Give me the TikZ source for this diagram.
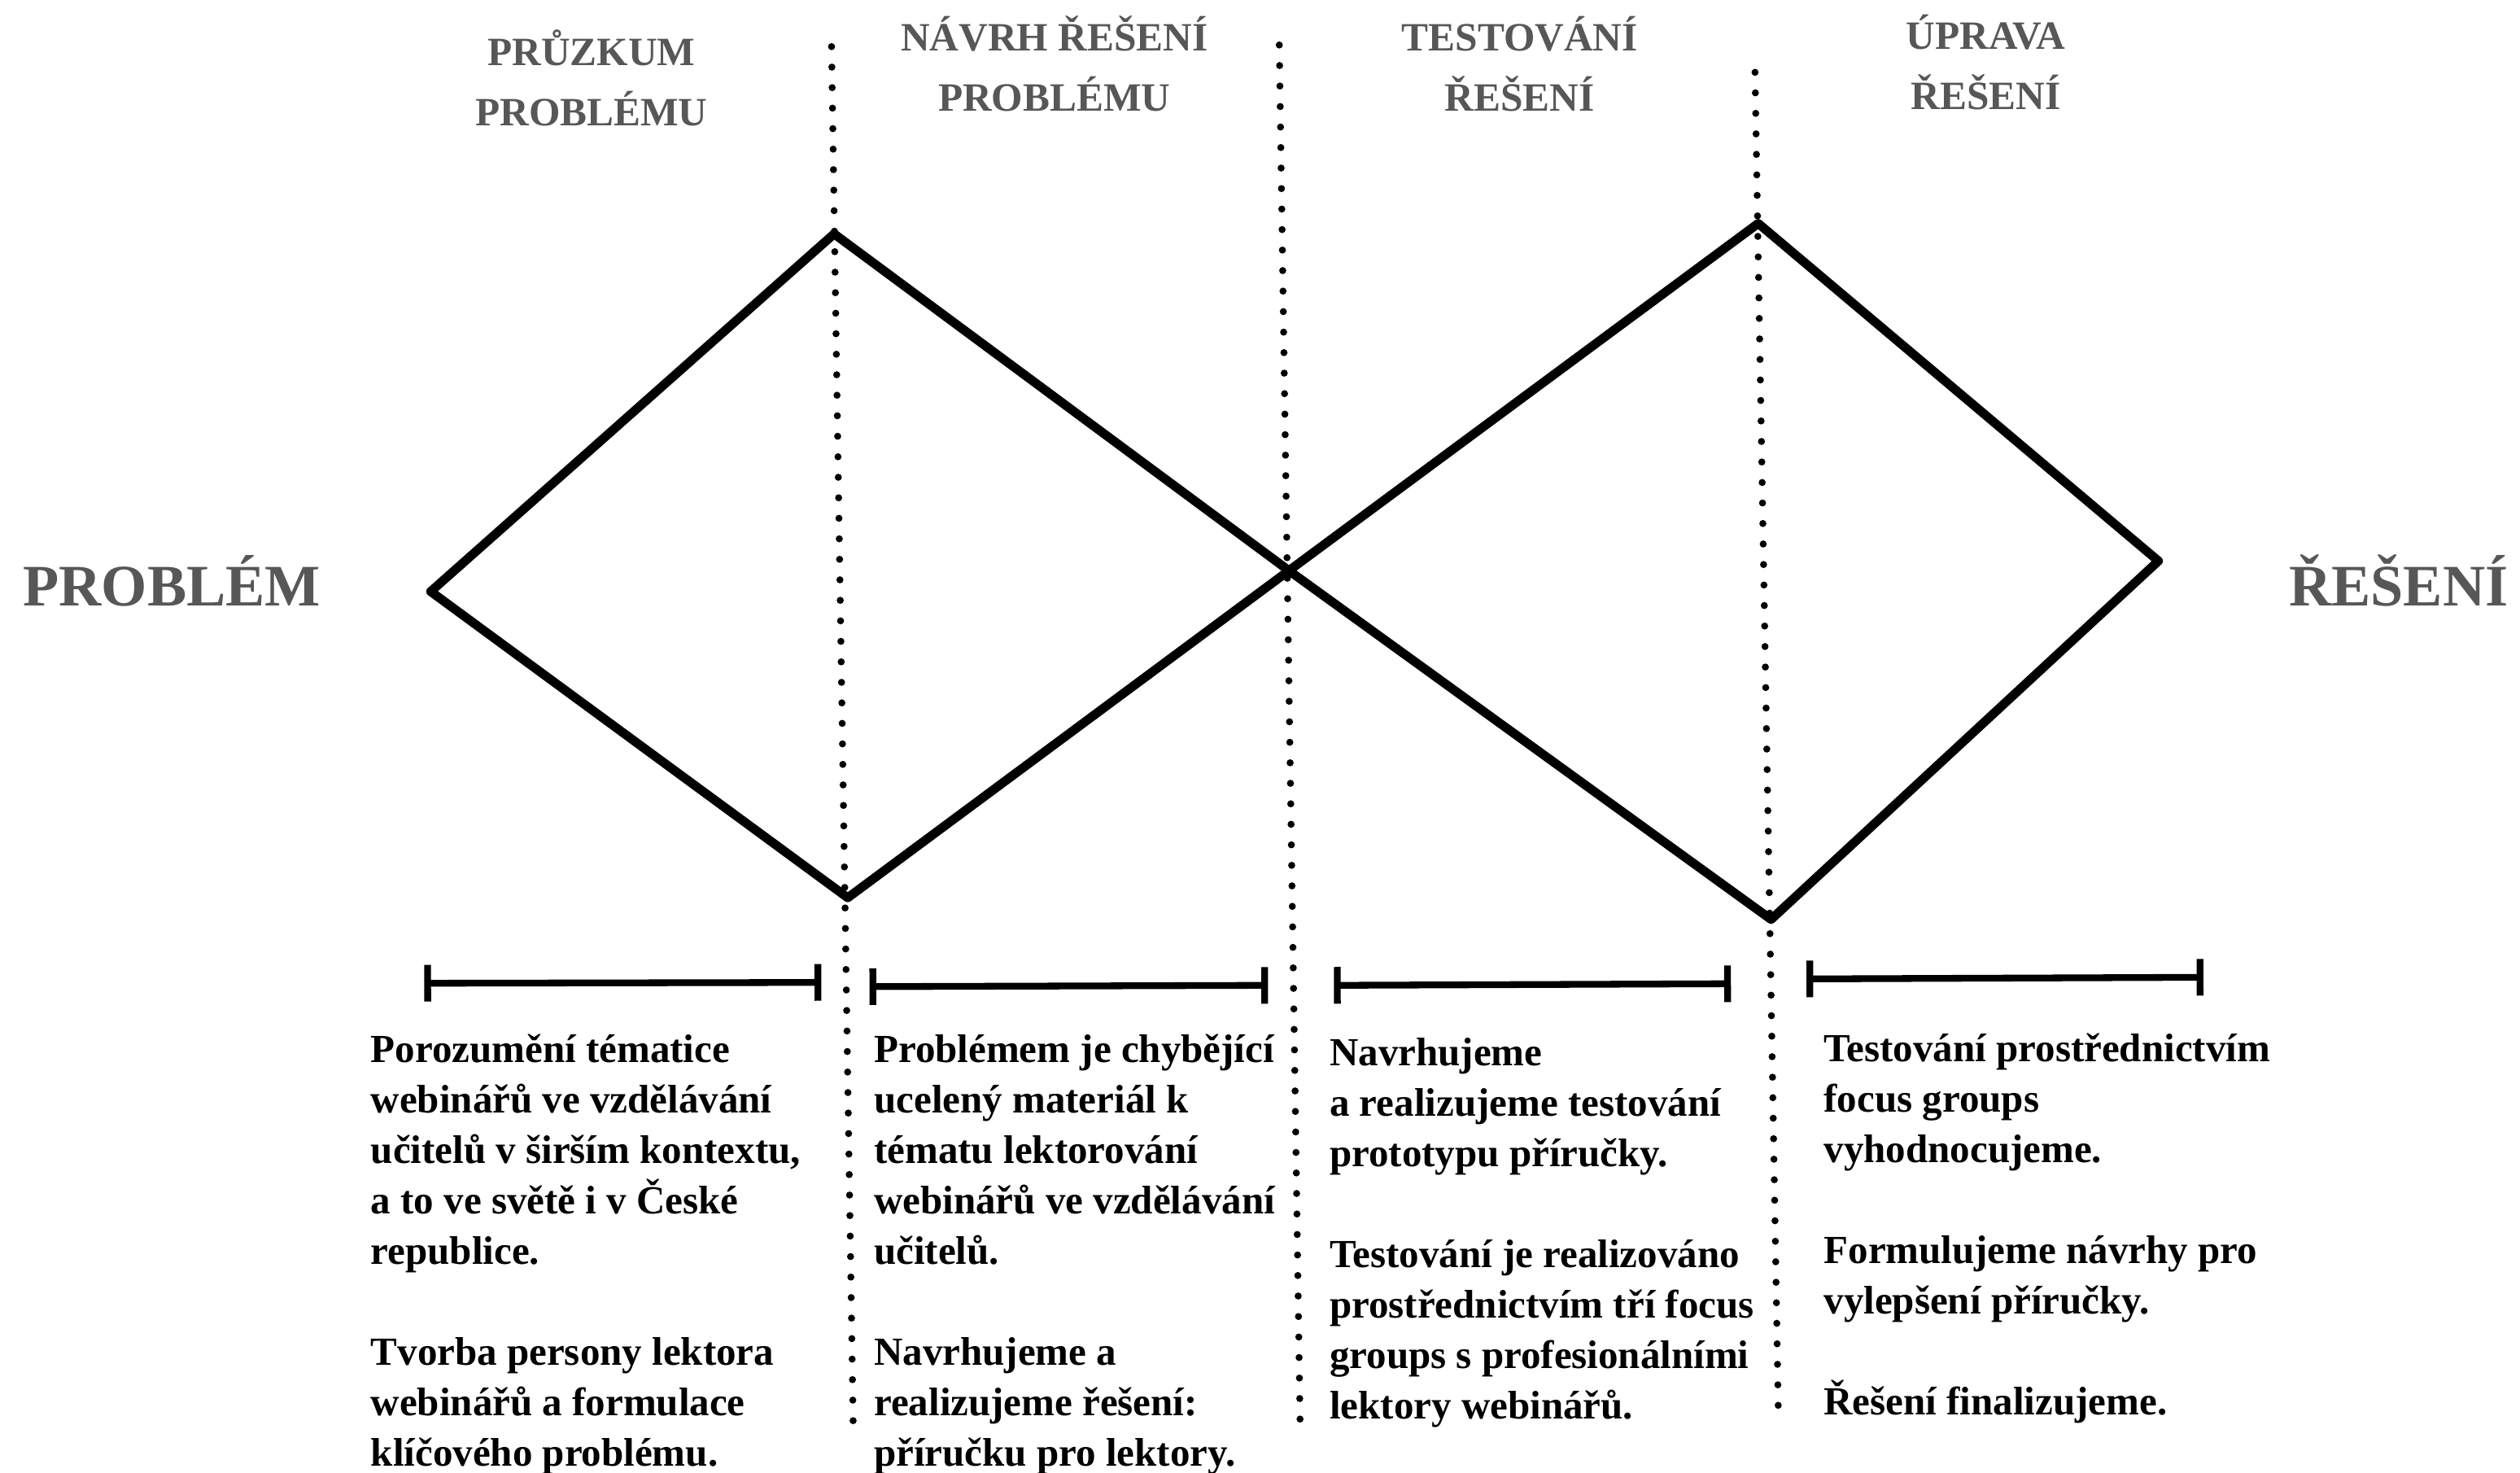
\documentclass[tikz,border=0pt]{standalone}
\usepackage{fontspec}
\setmainfont{Liberation Serif}
\usetikzlibrary{arrows.meta}
\definecolor{hdrgray}{HTML}{575757}
\begin{document}
\begin{tikzpicture}[x=0.5pt,y=-0.5pt,
  diamondline/.style={line width=2.8pt, line join=round, line cap=round},
  dotline/.style={line width=2.2pt, line cap=round, dash pattern=on 0pt off 6.38pt},
  spanbar/.style={line width=2.1pt, {Bar[width=11.4pt]}-{Bar[width=11.4pt]}},
  header/.style={inner sep=0pt, anchor=north, align=center, text=hdrgray, font=\fontsize{12.5}{18.7}\selectfont\bfseries},
  endlabel/.style={inner sep=0pt, text=hdrgray, font=\fontsize{18.3}{22}\selectfont\bfseries},
  body/.style={inner sep=0pt, anchor=north west, align=left, font=\fontsize{12.4}{15.7}\selectfont\bfseries}
]
\useasboundingbox (0,0) rectangle (1568,916);
\fill[white] (0,0) rectangle (1568,916);

% diamond vertices
\coordinate (L) at (268,368);
\coordinate (T1) at (519,145.5);
\coordinate (B1) at (527.5,558.5);
\coordinate (C) at (802,355);
\coordinate (T2) at (1094,139);
\coordinate (B2) at (1102,572);
\coordinate (R) at (1343,349);

% dotted separators
\coordinate (d1t) at (517.4,29);  \coordinate (d1b) at (531,895);
\coordinate (d2t) at (796,28);    \coordinate (d2b) at (809,889);
\coordinate (d3t) at (1092,45);   \coordinate (d3b) at (1106.5,878);
\draw[dotline] (d1t) -- (d1b);
\draw[dotline] (d2t) -- (d2b);
\draw[dotline] (d3t) -- (d3b);

% double diamond
\draw[diamondline] (L) -- (T1) -- (C) -- (T2) -- (R) -- (B2) -- (C) -- (B1) -- cycle;

% span bars
\coordinate (b1l) at (264,611.7);  \coordinate (b1r) at (511,611.2);
\coordinate (b2l) at (541,613.8);  \coordinate (b2r) at (789,613);
\coordinate (b3l) at (830,613);    \coordinate (b3r) at (1077,612);
\coordinate (b4l) at (1124,609);   \coordinate (b4r) at (1371,608);
\draw[spanbar] (b1l) -- (b1r);
\draw[spanbar] (b2l) -- (b2r);
\draw[spanbar] (b3l) -- (b3r);
\draw[spanbar] (b4l) -- (b4r);

% headers
\node[header] (h1) at (368,16.5) {\rule{0pt}{12pt}PRŮZKUM\\PROBLÉMU};
\node[header] (h2) at (656,7.2) {\rule{0pt}{12pt}NÁVRH ŘEŠENÍ\\PROBLÉMU};
\node[header] (h3) at (945.6,7.2) {\rule{0pt}{12pt}TESTOVÁNÍ\\ŘEŠENÍ};
\node[header] (h4) at (1235.7,6.4) {\rule{0pt}{12pt}ÚPRAVA\\ŘEŠENÍ};

% end labels
\node[endlabel, anchor=base west] (prob) at (14,376.7) {PROBLÉM};
\node[endlabel, anchor=base east] (res) at (1561,376.7) {ŘEŠENÍ};

% body texts
\node[body] (t1) at (230.4,634.5) {\rule{0pt}{13pt}Porozumění tématice\\
webinářů ve vzdělávání\\
učitelů v širším kontextu,\\
a to ve světě i v České\\
republice.\\[15.7pt]
Tvorba persony lektora\\
webinářů a formulace\\
klíčového problému.};

\node[body] (t2) at (543.5,634.5) {\rule{0pt}{13pt}Problémem je chybějící\\
ucelený materiál k\\
tématu lektorování\\
webinářů ve vzdělávání\\
učitelů.\\[15.7pt]
Navrhujeme a\\
realizujeme řešení:\\
příručku pro lektory.};

\node[body] (t3) at (827,636.5) {\rule{0pt}{13pt}Navrhujeme\\
a realizujeme testování\\
prototypu příručky.\\[15.7pt]
Testování je realizováno\\
prostřednictvím tří focus\\
groups s profesionálními\\
lektory webinářů.};

\node[body] (t4) at (1134.5,634) {\rule{0pt}{13pt}Testování prostřednictvím\\
focus groups\\
vyhodnocujeme.\\[15.7pt]
Formulujeme návrhy pro\\
vylepšení příručky.\\[15.7pt]
Řešení finalizujeme.};
\end{tikzpicture}
\end{document}
